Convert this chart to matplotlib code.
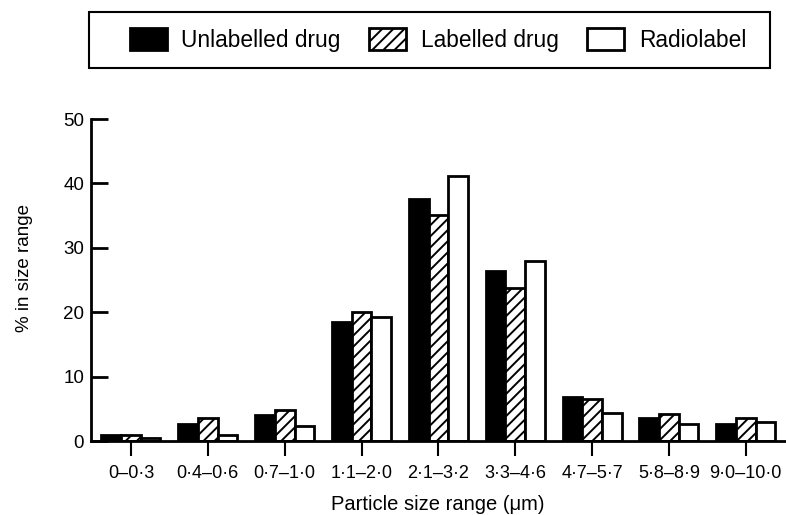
import numpy as np
import matplotlib
matplotlib.use('Agg')
import matplotlib.pyplot as plt
from matplotlib.patches import Rectangle

## data
ranges = ['0\u20130\u00b73', '0\u00b74\u20130\u00b76', '0\u00b77\u20131\u00b70', '1\u00b71\u20132\u00b70',
          '2\u00b71\u20133\u00b72', '3\u00b73\u20134\u00b76', '4\u00b77\u20135\u00b77',
          '5\u00b78\u20138\u00b79', '9\u00b70\u201310\u00b70']
unlabelled = [0.9, 2.7, 4.0, 18.5, 37.5, 26.4, 6.9, 3.5, 2.6]
labelled = [1.0, 3.6, 4.8, 20.1, 35.1, 23.8, 6.5, 4.2, 3.6]
radiolabel = [0.5, 1.0, 2.4, 19.3, 41.1, 28.0, 4.3, 2.7, 3.0]

plt.rcParams['font.family'] = ['Liberation Sans', 'DejaVu Sans']
plt.rcParams['hatch.linewidth'] = 1.4

fig = plt.figure(figsize=(7.86, 5.15), dpi=100)
ax = fig.add_axes([91/786, 74/515, (785-91)/786, (441-119)/515])

x = np.arange(len(ranges))
w = 0.256
kw = dict(edgecolor='black', linewidth=2)
b1 = ax.bar(x - w, unlabelled, w, color='black', label='Unlabelled drug', **kw)
b2 = ax.bar(x, labelled, w, color='white', hatch='///', label='Labelled drug', **kw)
b3 = ax.bar(x + w, radiolabel, w, color='white', label='Radiolabel', **kw)

ax.set_xlim(-0.52, 8.51)
ax.set_ylim(0, 50)
ax.set_yticks([0, 10, 20, 30, 40, 50])
ax.set_xticks(x)
ax.set_xticklabels(ranges, fontsize=13)
ax.tick_params(axis='y', direction='in', length=12, width=2, labelsize=13.5, pad=5)
ax.tick_params(axis='x', direction='out', length=11, width=1.5, pad=6)
for s in ['top', 'right']:
    ax.spines[s].set_visible(False)
ax.spines['left'].set_linewidth(2)
ax.spines['bottom'].set_linewidth(2)

ax.set_ylabel('% in size range', fontsize=13.5)
ax.yaxis.set_label_coords(-0.083, 0.537)
ax.set_xlabel('Particle size range (\u03bcm)', fontsize=14.5, labelpad=10)

## legend box drawn as a separate frame
fig.patches.append(Rectangle((89/786, (515-68)/515), 681/786, 56/515,
                             transform=fig.transFigure, fill=False,
                             edgecolor='black', linewidth=1.5))
leg = fig.legend(handles=[b1, b2, b3], loc='center', ncol=3,
                 bbox_to_anchor=(438/786, (515-40)/515),
                 fontsize=16.4, frameon=False,
                 handlelength=1.62, handleheight=1.1, handletextpad=0.65,
                 columnspacing=1.25, borderpad=0, borderaxespad=0)

plt.savefig('out.png', dpi=100)
